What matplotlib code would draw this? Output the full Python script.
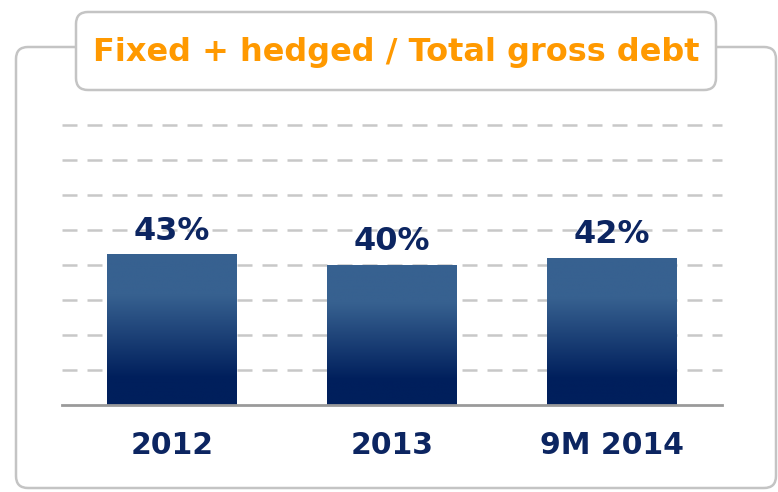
import matplotlib
matplotlib.use("Agg")
import matplotlib.pyplot as plt
import numpy as np
from matplotlib.colors import LinearSegmentedColormap
from matplotlib.patches import FancyBboxPatch

# data
categories = ["2012", "2013", "9M 2014"]
values = [43, 40, 42]
labels = ["43%", "40%", "42%"]
title = "Fixed + hedged / Total gross debt"

W, H = 778, 492
fig = plt.figure(figsize=(W / 100, H / 100), dpi=100)

# background frame (pixel coords overlay)
bg = fig.add_axes([0, 0, 1, 1])
bg.set_xlim(0, W)
bg.set_ylim(H, 0)
bg.axis("off")
outer = FancyBboxPatch((16, 47), 760, 441, boxstyle="round,pad=0,rounding_size=12",
                       fc="white", ec="#c4c4c4", lw=1.8)
bg.add_patch(outer)
tbox = FancyBboxPatch((76, 12), 640, 78, boxstyle="round,pad=0,rounding_size=12",
                      fc="white", ec="#c4c4c4", lw=1.8, zorder=3)
bg.add_patch(tbox)
bg.text(396, 52, title, ha="center", va="center", color="#ff9900",
        fontsize=23, fontweight="bold", family="DejaVu Sans", zorder=4)

# chart axes
ax = fig.add_axes([62 / W, (H - 405) / H, 660 / W, 280 / H])
ax.patch.set_alpha(0)
for s in ["top", "right", "left"]:
    ax.spines[s].set_visible(False)
ax.spines["bottom"].set_color("#9a9a9a")
ax.spines["bottom"].set_linewidth(2)
ax.set_yticks([])
ax.tick_params(axis="x", length=0, pad=18.5)
x = np.arange(len(categories))
ax.set_xticks(x)
ax.set_xticklabels(categories, fontsize=21.5, fontweight="bold", color="#0c2561")

for g in range(10, 81, 10):
    ax.axhline(g, color="#c8c8c8", lw=1.8, ls=(0, (6, 4)), zorder=0, clip_on=False)

cmap = LinearSegmentedColormap.from_list(
    "bar", [(0, "#001f5c"), (0.18, "#001f5c"), (0.73, "#376190"), (1, "#376190")])
grad = np.linspace(0, 1, 256).reshape(-1, 1)
width = 0.59
bars = ax.bar(x, values, width=width, color="none", zorder=2)
for b, v, lab in zip(bars, values, labels):
    x0 = b.get_x()
    ax.imshow(grad, cmap=cmap, origin="lower", aspect="auto",
              extent=[x0, x0 + width, 0, v], zorder=2)
    ax.text(b.get_x() + width / 2, v + 2.2, lab, ha="center", va="bottom",
            fontsize=23, fontweight="bold", color="#0c2561", zorder=3)
ax.set_xlim(-0.5, 2.5)
ax.set_ylim(0, 80)

fig.savefig("out.png", dpi=100)
